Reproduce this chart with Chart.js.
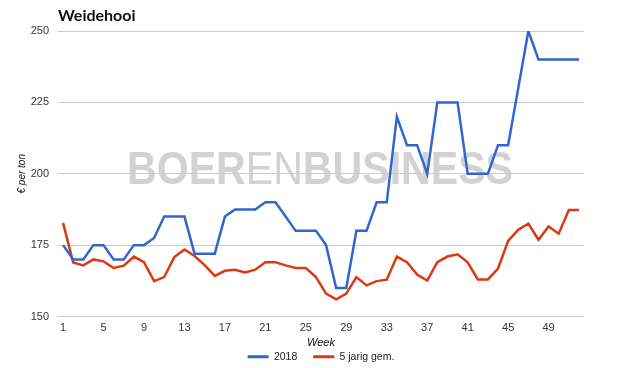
<!DOCTYPE html>
<html>
<head>
<meta charset="utf-8">
<script src="https://cdn.jsdelivr.net/npm/chart.js@4/dist/chart.umd.min.js"></script>
<style>
  html, body { margin: 0; padding: 0; background: #fff; }
  #wrap { width: 625px; height: 368px; }
</style>
</head>
<body>
<div id="wrap"><canvas id="chart" width="625" height="368"></canvas></div>
<script>
// Weeks 1..52
const weeks = Array.from({ length: 52 }, (_, i) => String(i + 1));

const prices2018 = [
  175, 170, 170, 175, 175, 170, 170, 175, 175, 177.5,
  185, 185, 185, 172, 172, 172, 185, 187.5, 187.5, 187.5,
  190, 190, 185, 180, 180, 180, 175, 160, 160, 180,
  180, 190, 190, 220, 210, 210, 200, 225, 225, 225,
  200, 200, 200, 210, 210, 230, 250, 240, 240, 240,
  240, 240
];

const avg5y = [
  182.8, 168.9, 167.9, 170, 169.3, 167, 167.8, 171, 169, 162.4,
  163.8, 170.8, 173.5, 171.2, 168, 164.2, 166, 166.4, 165.4, 166.4,
  169, 169, 167.9, 167, 167, 163.8, 158, 156, 158, 163.8,
  160.9, 162.4, 162.9, 171, 169, 164.7, 162.6, 169, 171, 171.8,
  169, 163, 163, 166.8, 176.5, 180.4, 182.5, 176.9, 181.5, 179,
  187.3, 187.3
];

const yTicks = [150, 175, 200, 225, 250];

const seriesNames = ['2018', '5 jarig gem.'];
const seriesColors = ['#3366cc', '#dc3912'];

const tickFont = { family: 'Liberation Sans, Arial, sans-serif', size: 11 };

// watermark + title
const decor = {
  id: 'decor',
  beforeDraw(chart) {
    const ctx = chart.ctx;
    ctx.save();
    ctx.fillStyle = '#fff';
    ctx.fillRect(0, 0, chart.width, chart.height);

    // watermark
    const parts = [['BOER', 'bold'], ['EN', 'normal'], ['BUSINESS', 'bold']];
    const size = 47;
    let total = 0;
    parts.forEach(p => {
      ctx.font = p[1] + ' ' + size + 'px "Liberation Sans", Arial, sans-serif';
      total += ctx.measureText(p[0]).width;
    });
    const x0 = 127, x1 = 513;
    const sx = (x1 - x0) / total;
    ctx.translate(x0, 183.5);
    ctx.scale(sx, 1);
    ctx.fillStyle = '#d2d2d2';
    ctx.textBaseline = 'alphabetic';
    let cx = 0;
    parts.forEach(p => {
      ctx.font = p[1] + ' ' + size + 'px "Liberation Sans", Arial, sans-serif';
      ctx.fillText(p[0], cx, 0);
      cx += ctx.measureText(p[0]).width;
    });
    ctx.restore();

    ctx.save();
    ctx.fillStyle = '#111';
    ctx.font = 'bold 16px Lato, "Liberation Sans", sans-serif';
    ctx.textBaseline = 'alphabetic';
    ctx.fillText('Weidehooi', 58, 21);
    ctx.restore();
  }
};

new Chart(document.getElementById('chart'), {
  type: 'line',
  data: {
    labels: weeks,
    datasets: [
      { label: seriesNames[0], data: prices2018, borderColor: seriesColors[0], backgroundColor: seriesColors[0] },
      { label: seriesNames[1], data: avg5y, borderColor: seriesColors[1], backgroundColor: seriesColors[1] }
    ]
  },
  options: {
    responsive: false,
    animation: false,
    layout: { padding: { top: 31, right: 41, left: 0, bottom: -4 } },
    elements: {
      line: { borderWidth: 2.5, tension: 0 },
      point: { radius: 0 }
    },
    plugins: {
      title: { display: false },
      tooltip: { enabled: false },
      legend: {
        position: 'bottom',
        fullSize: false,
        labels: {
          color: '#222',
          font: { family: 'Liberation Sans, Arial, sans-serif', size: 10.5 },
          boxWidth: 21,
          boxHeight: 3,
          padding: 16,
          generateLabels: (chart) =>
            Chart.defaults.plugins.legend.labels.generateLabels(chart)
              .map(l => ({ ...l, lineWidth: 0, fillStyle: l.strokeStyle }))
        }
      }
    },
    scales: {
      x: {
        offset: true,
        grid: { display: false, drawTicks: false },
        border: { display: false },
        ticks: {
          color: '#333',
          font: tickFont,
          maxRotation: 0,
          autoSkip: false,
          padding: 5,
          callback: function (v, i) { return i % 4 === 0 ? weeks[i] : null; }
        },
        title: {
          display: true,
          text: 'Week',
          color: '#111',
          font: { family: 'Liberation Sans, Arial, sans-serif', size: 11, style: 'italic' },
          padding: { top: 0, bottom: -13.6 }
        },
        afterFit(scale) { scale.height = 19; }
      },
      y: {
        min: 150,
        max: 250,
        afterBuildTicks(scale) { scale.ticks = yTicks.map(v => ({ value: v })); },
        grid: { color: '#cccccc', drawTicks: false },
        border: { display: false },
        ticks: { color: '#333', font: tickFont, padding: 9 },
        title: {
          display: true,
          text: '€ per ton',
          color: '#111',
          font: { family: 'Liberation Sans, Arial, sans-serif', size: 10, style: 'italic' },
          padding: { top: 16, bottom: 0 }
        },
        afterFit(scale) { scale.width = 58; }
      }
    }
  },
  plugins: [decor]
});
</script>
</body>
</html>
